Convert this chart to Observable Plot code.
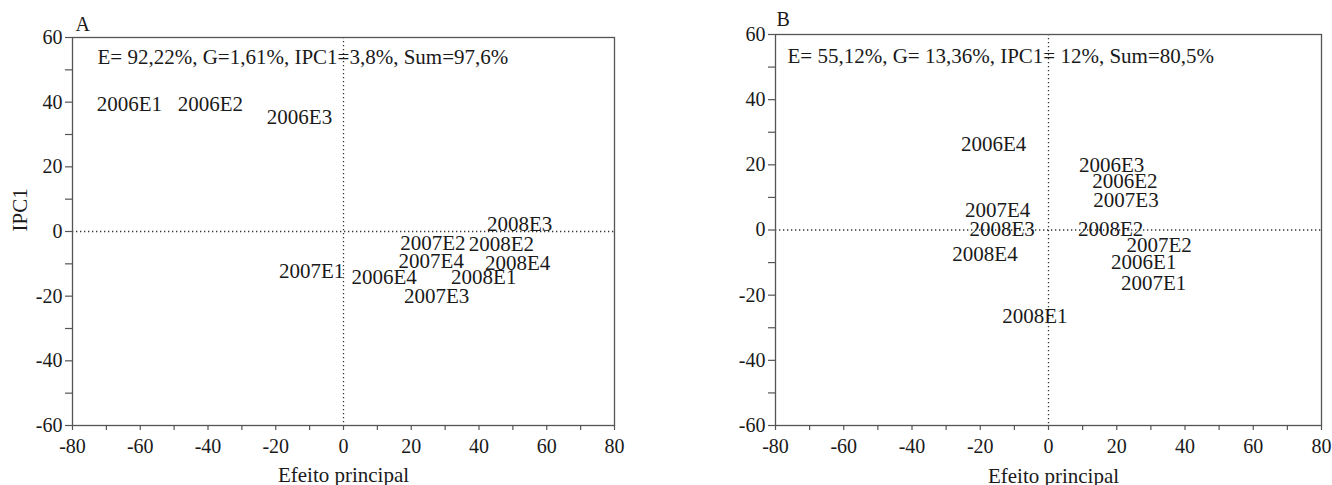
<!DOCTYPE html>
<html>
<head>
<meta charset="utf-8">
<script src="https://cdn.jsdelivr.net/npm/d3@7"></script>
<script src="https://cdn.jsdelivr.net/npm/@observablehq/plot@0.6"></script>
<style>
  body { margin: 0; background: #fff; }
  #wrap { position: relative; width: 1332px; height: 485px; overflow: hidden; }
  .panel { position: absolute; top: 0; }
</style>
</head>
<body>
<div id="wrap"></div>
<script>
// ---- data ----
const envA = ["2006E1","2006E2","2006E3","2006E4","2007E1","2007E2","2007E3","2007E4","2008E1","2008E2","2008E3","2008E4"];
const effA = [-63.2, -39.3, -13.0, 12.0, -9.4, 26.4, 27.5, 25.9, 41.4, 46.6, 52.0, 51.4];
const ipcA = [39.5, 39.5, 35.2, -14.2, -12.3, -3.5, -20.0, -9.2, -14.2, -4.1, 2.3, -9.7];

const envB = ["2006E1","2006E2","2006E3","2006E4","2007E1","2007E2","2007E3","2007E4","2008E1","2008E2","2008E3","2008E4"];
const effB = [27.9, 22.4, 18.5, -16.1, 30.8, 32.4, 22.7, -14.9, -4.0, 18.2, -13.6, -18.6];
const ipcB = [-9.9, 15.0, 19.8, 26.2, -16.2, -4.8, 9.1, 6.0, -26.5, 0.15, 0.15, -7.5];

const noteA = "E= 92,22%, G=1,61%, IPC1=3,8%, Sum=97,6%";
const noteB = "E= 55,12%, G= 13,36%, IPC1= 12%, Sum=80,5%";
const panelLetters = ["A", "B"];

const xTickValues = [-80, -60, -40, -20, 0, 20, 40, 60, 80];
const xTickLabels = ["-80", "-60", "-40", "-20", "0", "20", "40", "60", "80"];
const xMinorTicks = [-80, -70, -60, -50, -40, -30, -20, -10, 0, 10, 20, 30, 40, 50, 60, 70, 80];
const yTickValues = [-60, -40, -20, 0, 20, 40, 60];
const yTickLabels = ["-60", "-40", "-20", "0", "20", "40", "60"];
const yMinorTicks = [-60, -50, -40, -30, -20, -10, 0, 10, 20, 30, 40, 50, 60];
const xTitle = "Efeito principal";
const yTitle = "IPC1";

// ---- drawing ----
const FONT = "'Liberation Serif', 'Times New Roman', serif";
const INK = "#1a1a1a";
const FRAME = "#555";

function fmt(values, labels) {
  return d => { const i = values.indexOf(d); return i >= 0 ? labels[i] : ""; };
}

function panel(opts) {
  const rows = opts.env.map((e, i) => ({env: e, x: opts.xs[i], y: opts.ys[i]}));
  const marks = [
    Plot.ruleX([0], {stroke: "#333", strokeWidth: 1.3, strokeDasharray: "1.3,2.7"}),
    Plot.ruleY([0], {stroke: "#333", strokeWidth: 1.3, strokeDasharray: "1.3,2.7"}),
    Plot.frame({stroke: FRAME, strokeWidth: 1.3}),
    Plot.axisX(xMinorTicks, {anchor: "bottom", tickSize: 5, tickPadding: 8, stroke: FRAME, strokeWidth: 1.2,
      tickFormat: fmt(xTickValues, xTickLabels), fontSize: 20, fill: INK, label: null}),
    Plot.axisY(yMinorTicks, {anchor: "left", tickSize: 7, tickPadding: 3, stroke: FRAME, strokeWidth: 1.2,
      tickFormat: fmt(yTickValues, yTickLabels), fontSize: 20, fill: INK, label: null}),
    Plot.text(rows, {x: "x", y: "y", text: "env", fontSize: 21, fill: INK, lineAnchor: "middle"}),
    Plot.text([opts.note], {text: d => d, frameAnchor: "top-left", textAnchor: "start", lineAnchor: "middle",
      dx: opts.noteDx, dy: opts.noteDy, fontSize: 21, fill: INK}),
    Plot.text([opts.letter], {text: d => d, frameAnchor: "top-left", textAnchor: "start", lineAnchor: "middle",
      dx: opts.letterDx, dy: opts.letterDy, fontSize: 20, fill: INK}),
    Plot.text([xTitle], {text: d => d, frameAnchor: "bottom", lineAnchor: "bottom",
      dx: opts.xTitleDx, dy: opts.xTitleDy, fontSize: 21, fill: INK})
  ];
  if (opts.yTitle) {
    marks.push(Plot.text([yTitle], {text: d => d, frameAnchor: "left", rotate: -90, lineAnchor: "middle",
      dx: -52, fontSize: 21, fill: INK}));
  }
  return Plot.plot({
    width: opts.width, height: 485,
    marginLeft: opts.ml, marginRight: opts.mr, marginTop: opts.mt, marginBottom: 60,
    x: {domain: [-80, 80]},
    y: {domain: [-60, 60]},
    style: {fontFamily: FONT, fontSize: "20px", color: INK, background: "transparent", overflow: "visible"},
    marks
  });
}

const wrap = document.getElementById("wrap");

const a = panel({env: envA, xs: effA, ys: ipcA, note: noteA, letter: panelLetters[0],
  width: 660, ml: 72, mr: 46, mt: 37, noteDx: 25, noteDy: 20, letterDx: 3, letterDy: -13,
  xTitleDx: 0, xTitleDy: 56, yTitle: true});
a.classList.add("panel"); a.style.left = "0px";
wrap.appendChild(a);

const b = panel({env: envB, xs: effB, ys: ipcB, note: noteB, letter: panelLetters[1],
  width: 632, ml: 75, mr: 11, mt: 34, noteDx: 12, noteDy: 22, letterDx: 1, letterDy: -15,
  xTitleDx: 5, xTitleDy: 57, yTitle: false});
b.classList.add("panel"); b.style.left = "700px";
wrap.appendChild(b);
</script>
</body>
</html>
